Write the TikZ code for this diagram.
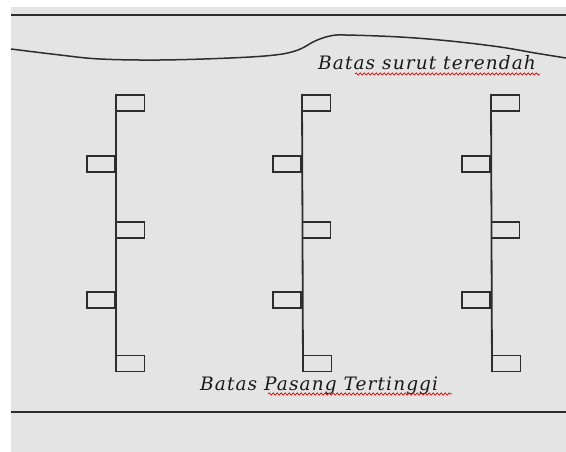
\documentclass[tikz,border=0pt]{standalone}
\usepackage{fontspec}
\setmainfont{DejaVu Serif}
\usetikzlibrary{decorations.pathmorphing}
\definecolor{bg}{RGB}{228,228,228}
\definecolor{ink}{RGB}{45,45,45}
\tikzset{
  box/.style={draw=ink, line width=1.6pt, minimum width=28pt, minimum height=16pt, inner sep=0pt, outer sep=0pt},
  pole/.style={draw=ink, line width=1.8pt},
  border/.style={draw=ink, line width=1.2pt},
  lbl/.style={font=\fontsize{18.5}{20}\selectfont\itshape\addfontfeatures{LetterSpace=6}, text=black!90, inner sep=0pt},
  wavy/.style={draw=red!85!black, line width=0.7pt, decorate, decoration={snake, amplitude=1.2pt, segment length=4pt}}
}
\begin{document}
\begin{tikzpicture}[x=1pt,y=-1pt]
\useasboundingbox (0,0) rectangle (566,452);
\fill[bg] (11,7) rectangle (566,452);
% top and bottom borders
\coordinate (tl) at (11,15);
\coordinate (tr) at (566,15);
\coordinate (bl) at (11,412);
\coordinate (br) at (566,412);
\draw[border] (tl) -- (tr);
\draw[border] (bl) -- (br);
% low water line
\draw[border, line width=1.5pt] plot[smooth, tension=0.6] coordinates {(11,49) (60,55) (100,59) (160,60) (230,58) (275,55) (298,50) (315,41) (330,36) (345,35) (400,37) (450,41) (500,47) (535,53) (566,58)};
% labels
\node[lbl, anchor=base west] (top) at (318,70) {Batas surut terendah};
\node[lbl, anchor=base west] (bot) at (200,390) {Batas Pasang Tertinggi};
\draw[wavy] (355,74) -- (540,74);
\draw[wavy] (268,394) -- (452,394);
% poles
\foreach \n/\x/\dx in {1/116/0, 2/302/1, 3/491/1} {
  \coordinate (p\n t) at (\x,94);
  \coordinate (p\n b) at (\x+\dx,372);
  \draw[pole] (p\n t) -- (p\n b);
  \node[box] (b\n a) at (\x+14.5,103) {};
  \node[box] (b\n b) at (\x-15,164) {};
  \node[box] (b\n c) at (\x+14.5,230) {};
  \node[box] (b\n d) at (\x-15,300) {};
  \node[box] (b\n e) at (\x+\dx+14.5,363.5) {};
}
\end{tikzpicture}
\end{document}
